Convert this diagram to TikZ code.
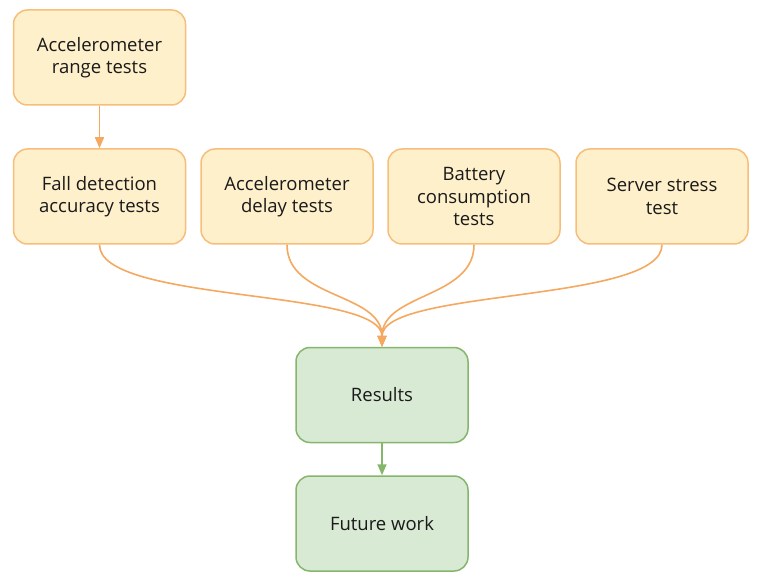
\documentclass[tikz,border=0pt]{standalone}
\usepackage{fontspec}
\setmainfont{Open Sans}
\usetikzlibrary{arrows.meta, positioning}

\definecolor{testfill}{HTML}{FFF0CC}
\definecolor{testline}{HTML}{F6BE7A}
\definecolor{testarrow}{HTML}{F5A860}
\definecolor{resfill}{HTML}{D8EAD4}
\definecolor{resline}{HTML}{86B56C}
\definecolor{txt}{HTML}{1A1A1A}

\begin{document}
\begin{tikzpicture}[x=1pt, y=1pt,
    testbox/.style={draw=testline, fill=testfill, line width=1.5pt, rounded corners=14pt,
        minimum width=172pt, minimum height=95pt, align=center, text=txt,
        font=\fontsize{18.5}{22.5}\selectfont},
    resbox/.style={testbox, draw=resline, fill=resfill},
    flow/.style={-{Triangle[length=11pt, width=9pt]}, line width=1.6pt, draw=testarrow},
    resflow/.style={flow, draw=resline}]

    \useasboundingbox (0,0) rectangle (759,584);

    \node [testbox] (range) at (99.5, 526.5) {Accelerometer\\range tests};
    \node [testbox] (fall) at (99.5, 387.5) {Fall detection\\accuracy tests};
    \node [testbox] (delay) at (287, 387.5) {Accelerometer\\delay tests};
    \node [testbox] (battery) at (474, 387.5) {Battery\\consumption\\tests};
    \node [testbox] (server) at (662, 387.5) {Server stress\\test};
    \node [resbox] (results) at (382, 189) {Results};
    \node [resbox] (future) at (382, 60.5) {Future work};

    \draw[flow] (range) -- (fall);
    \draw[flow] (fall.south) to[out=-90, in=90, looseness=0.5] (results.north);
    \draw[flow] (delay.south) to[out=-90, in=90] (results.north);
    \draw[flow] (battery.south) to[out=-90, in=90] (results.north);
    \draw[flow] (server.south) to[out=-90, in=90, looseness=0.5] (results.north);
    \draw[resflow] (results) -- (future);
\end{tikzpicture}
\end{document}
